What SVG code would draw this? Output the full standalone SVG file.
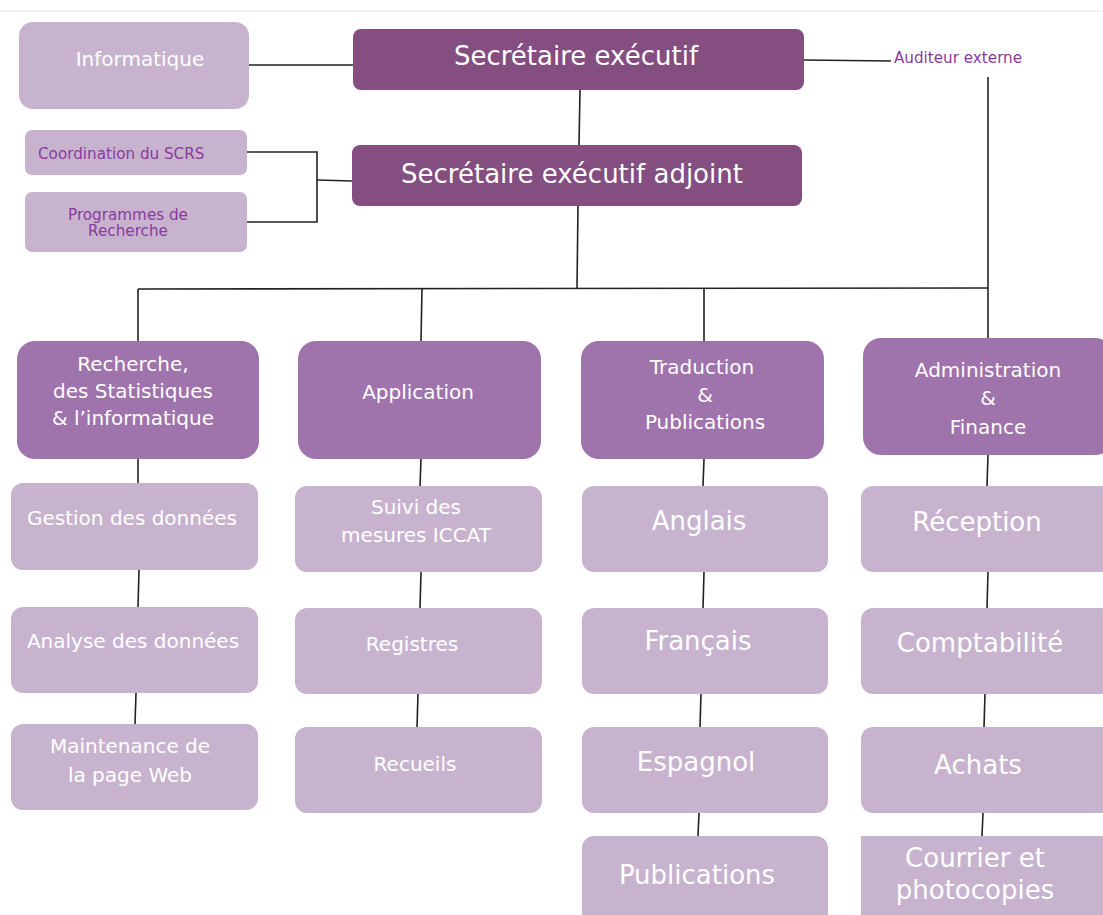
<svg xmlns="http://www.w3.org/2000/svg" width="1103" height="915" viewBox="0 0 1103 915">
<style>
text{font-family:"DejaVu Sans","Liberation Sans",sans-serif;text-anchor:middle;fill:#FFFFFF}
.dark{fill:#854E81}
.mid{fill:#9F73AB}
.light{fill:#C8B3CF}
.t26{font-size:26px}
.t20{font-size:20px}
.pur{fill:#8A3A9E;font-size:15.2px}
.conn line,.conn polyline{stroke:#222;stroke-width:1.6;fill:none}
</style>
<rect width="1103" height="915" fill="#FFFFFF"/>
<line x1="0" y1="11" x2="1103" y2="11" stroke="#F2F2F2" stroke-width="2"/>
<g class="conn">
<line x1="249" y1="65" x2="353" y2="65"/>
<line x1="804" y1="60" x2="891" y2="61"/>
<line x1="580" y1="90" x2="579" y2="145"/>
<polyline points="247,152 317,152 317,222 247,222"/>
<line x1="317" y1="180" x2="352" y2="181"/>
<line x1="578" y1="206" x2="577" y2="288"/>
<line x1="988" y1="77" x2="988" y2="338"/>
<line x1="138" y1="289" x2="988" y2="288"/>
<line x1="138" y1="289" x2="138" y2="341"/>
<line x1="422" y1="288" x2="421" y2="341"/>
<line x1="704" y1="288" x2="704" y2="341"/>
<line x1="138" y1="459" x2="138" y2="483"/>
<line x1="139" y1="570" x2="138" y2="607"/>
<line x1="136" y1="693" x2="135" y2="724"/>
<line x1="421" y1="459" x2="420" y2="486"/>
<line x1="421" y1="572" x2="420" y2="608"/>
<line x1="418" y1="694" x2="417" y2="727"/>
<line x1="704" y1="459" x2="703" y2="486"/>
<line x1="704" y1="572" x2="703" y2="608"/>
<line x1="701" y1="694" x2="700" y2="727"/>
<line x1="699" y1="813" x2="698" y2="836"/>
<line x1="988" y1="455" x2="987" y2="486"/>
<line x1="988" y1="572" x2="987" y2="608"/>
<line x1="985" y1="694" x2="984" y2="727"/>
<line x1="983" y1="813" x2="982" y2="836"/>
</g>
<g id="informatique"><rect class="light" x="19" y="22" width="230" height="87" rx="14"/><text class="t20" x="140" y="66">Informatique</text></g>
<g id="se"><rect class="dark" x="353" y="29" width="451" height="61" rx="8"/><text class="t26" x="576" y="65">Secrétaire exécutif</text></g>
<g id="auditeur"><text class="pur" x="958" y="63">Auditeur externe</text></g>
<g id="sea"><rect class="dark" x="352" y="145" width="450" height="61" rx="8"/><text class="t26" x="572" y="183">Secrétaire exécutif adjoint</text></g>
<g id="coord"><rect class="light" x="25" y="130" width="222" height="45" rx="7"/><text class="pur" x="38" y="159" style="text-anchor:start">Coordination du SCRS</text></g>
<g id="prog"><rect class="light" x="25" y="192" width="222" height="60" rx="7"/><text class="pur" x="128" y="220">Programmes de</text><text class="pur" x="128" y="236">Recherche</text></g>
<g id="recherche"><rect class="mid" x="17" y="341" width="242" height="118" rx="18"/><text class="t20" x="133" y="371">Recherche,</text><text class="t20" x="133" y="398">des Statistiques</text><text class="t20" x="133" y="425">&amp; l’informatique</text></g>
<g id="application"><rect class="mid" x="298" y="341" width="243" height="118" rx="18"/><text class="t20" x="418" y="399">Application</text></g>
<g id="traduction"><rect class="mid" x="581" y="341" width="243" height="118" rx="18"/><text class="t20" x="702" y="374">Traduction</text><text class="t20" x="705" y="402">&amp;</text><text class="t20" x="705" y="429">Publications</text></g>
<g id="administration"><rect class="mid" x="863" y="338" width="250" height="117" rx="18"/><text class="t20" x="988" y="377">Administration</text><text class="t20" x="988" y="405">&amp;</text><text class="t20" x="988" y="434">Finance</text></g>
<g id="gestion"><rect class="light" x="11" y="483" width="247" height="87" rx="12"/><text class="t20" x="132" y="525">Gestion des données</text></g>
<g id="analyse"><rect class="light" x="11" y="607" width="247" height="86" rx="12"/><text class="t20" x="133" y="648">Analyse des données</text></g>
<g id="maintenance"><rect class="light" x="11" y="724" width="247" height="86" rx="12"/><text class="t20" x="130" y="753">Maintenance de</text><text class="t20" x="130" y="782">la page Web</text></g>
<g id="suivi"><rect class="light" x="295" y="486" width="247" height="86" rx="12"/><text class="t20" x="416" y="514">Suivi des</text><text class="t20" x="416" y="542">mesures ICCAT</text></g>
<g id="registres"><rect class="light" x="295" y="608" width="247" height="86" rx="12"/><text class="t20" x="412" y="651">Registres</text></g>
<g id="recueils"><rect class="light" x="295" y="727" width="247" height="86" rx="12"/><text class="t20" x="415" y="771">Recueils</text></g>
<g id="anglais"><rect class="light" x="582" y="486" width="246" height="86" rx="12"/><text class="t26" x="699" y="530">Anglais</text></g>
<g id="francais"><rect class="light" x="582" y="608" width="246" height="86" rx="12"/><text class="t26" x="698" y="650">Français</text></g>
<g id="espagnol"><rect class="light" x="582" y="727" width="246" height="86" rx="12"/><text class="t26" x="696" y="771">Espagnol</text></g>
<g id="publications"><rect class="light" x="582" y="836" width="246" height="95" rx="12"/><text class="t26" x="697" y="884">Publications</text></g>
<g id="reception"><rect class="light" x="861" y="486" width="252" height="86" rx="12"/><text class="t26" x="977" y="531">Réception</text></g>
<g id="comptabilite"><rect class="light" x="861" y="608" width="252" height="86" rx="12"/><text class="t26" x="980" y="652">Comptabilité</text></g>
<g id="achats"><rect class="light" x="861" y="727" width="252" height="86" rx="12"/><text class="t26" x="978" y="774">Achats</text></g>
<g id="courrier"><rect class="light" x="861" y="836" width="252" height="95"/><text class="t26" x="975" y="867">Courrier et</text><text class="t26" x="975" y="899">photocopies</text></g>
</svg>
